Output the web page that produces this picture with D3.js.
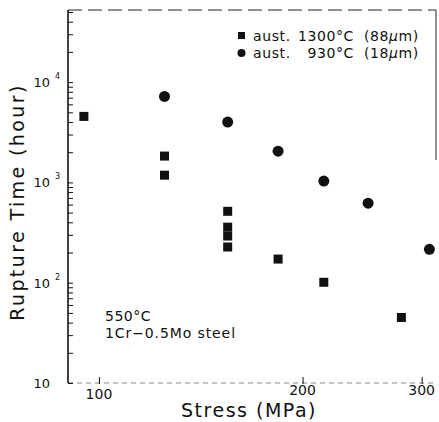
<!DOCTYPE html>
<html>
<head>
<meta charset="utf-8">
<script src="https://cdn.jsdelivr.net/npm/d3@7"></script>
<style>
  body { margin: 0; background: #fff; }
  text { font-family: "DejaVu Sans", sans-serif; fill: #111; }
</style>
</head>
<body>
<div id="chart"></div>
<script>
// data
const coarseStress = [95, 125, 125, 155, 155, 155, 155, 184, 215, 280]
const coarseTime = [4550, 1830, 1180, 515, 358, 292, 227, 172, 101, 45]
const fineStress = [125, 155, 184, 215, 250, 308]
const fineTime = [7200, 4000, 2050, 1030, 620, 215]
const stressTicks = [100, 200, 300]
const timeMajor = [10, 100, 1000, 10000]
const timeExp = ['', '2', '3', '4']
const legendName = ['aust.', 'aust.']
const legendTemp = ['1300°C', '930°C']
const legendSize = ['88', '18']

const width = 439, height = 422
const plotL = 68, plotR = 436, plotT = 12, plotB = 383

const svg = d3.select('#chart').append('svg')
  .attr('width', width)
  .attr('height', height)

const x = d3.scaleLog().domain([90, 315]).range([plotL, plotR])
const y = d3.scaleLog().domain([10, 50000]).range([plotB, plotT])

// frame (scan is faded on top / bottom)
svg.append('line')
  .attr('x1', plotL).attr('x2', plotR).attr('y1', 10).attr('y2', 10)
  .attr('stroke', '#222').attr('stroke-dasharray', '14,6')
svg.append('line')
  .attr('x1', plotR).attr('x2', plotR).attr('y1', 10).attr('y2', 160)
  .attr('stroke', '#222')
svg.append('line')
  .attr('x1', plotL).attr('x2', plotR).attr('y1', plotB).attr('y2', plotB)
  .attr('stroke', '#888').attr('stroke-dasharray', '5,4')

// y axis, ticks inward
const yAxis = d3.axisRight(y)
  .tickValues(d3.range(1, 5).flatMap(e => d3.range(1, 10).map(m => m * 10 ** e)).filter(v => v <= 50000))
  .tickSize(5)
  .tickFormat('')
svg.append('g')
  .attr('transform', `translate(${plotL},0)`)
  .call(yAxis)
  .call(g => g.select('.domain').attr('d', `M0,${plotT - 2}V${plotB}`).attr('stroke', '#111').attr('stroke-width', 1.6))
  .call(g => g.selectAll('.tick line').attr('stroke', '#111'))

const yl = svg.append('g')
timeMajor.forEach((v, i) => {
  yl.append('text')
    .attr('x', 50).attr('y', y(v) + 5)
    .attr('text-anchor', 'end')
    .style('font-size', '13px')
    .text('10')
  yl.append('text')
    .attr('x', 55).attr('y', y(v) - 3)
    .style('font-size', '8px')
    .text(timeExp[i])
})

// x axis, ticks inward
const xAxis = d3.axisBottom(x)
  .tickValues(stressTicks)
  .tickSize(-7)
  .tickFormat('')
svg.append('g')
  .attr('transform', `translate(0,${plotB + 1})`)
  .call(xAxis)
  .call(g => g.select('.domain').remove())
  .call(g => g.selectAll('.tick line').attr('stroke', '#111'))

svg.append('g').selectAll('text').data(stressTicks).join('text')
  .attr('x', d => x(d))
  .attr('y', (d, i) => i === 0 ? 399 : 395)
  .attr('text-anchor', 'middle')
  .style('font-size', '14px')
  .text(d => d)

// axis titles
svg.append('text')
  .attr('x', 249).attr('y', 417)
  .attr('text-anchor', 'middle')
  .style('font-size', '19px')
  .style('letter-spacing', '1.5px')
  .text('Stress  (MPa)')

svg.append('text')
  .attr('transform', 'translate(24,202) rotate(-90)')
  .attr('text-anchor', 'middle')
  .style('font-size', '19px')
  .style('letter-spacing', '2.4px')
  .text('Rupture  Time  (hour)')

// markers
const sq = 9
svg.append('g').selectAll('rect').data(coarseStress).join('rect')
  .attr('x', d => x(d) - sq / 2)
  .attr('y', (d, i) => y(coarseTime[i]) - sq / 2)
  .attr('width', sq).attr('height', sq)
  .attr('fill', '#111')

svg.append('g').selectAll('circle').data(fineStress).join('circle')
  .attr('cx', d => x(d))
  .attr('cy', (d, i) => y(fineTime[i]))
  .attr('r', 5.5)
  .attr('fill', '#111')

// legend
const lg = svg.append('g')
legendName.forEach((n, i) => {
  const ly = 36 + i * 17
  if (i === 0) {
    lg.append('rect').attr('x', 238).attr('y', ly - 4).attr('width', 7).attr('height', 7).attr('fill', '#111')
  } else {
    lg.append('circle').attr('cx', 241.5).attr('cy', ly).attr('r', 4).attr('fill', '#111')
  }
  lg.append('text').attr('x', 253).attr('y', ly + 5).style('font-size', '14px').style('letter-spacing', '0.6px').text(n)
  lg.append('text').attr('x', 354).attr('y', ly + 5).attr('text-anchor', 'end').style('font-size', '14px').style('letter-spacing', '0.6px').text(legendTemp[i])
  const t = lg.append('text').attr('x', 364).attr('y', ly + 5).style('font-size', '14px').style('letter-spacing', '0.6px')
  t.append('tspan').text('(' + legendSize[i])
  t.append('tspan').style('font-style', 'italic').text('μ')
  t.append('tspan').text('m)')
})

// annotation
svg.append('text')
  .attr('x', 105).attr('y', 321)
  .style('font-size', '14px')
  .style('letter-spacing', '0.5px')
  .text('550°C')
svg.append('text')
  .attr('x', 105).attr('y', 338)
  .style('font-size', '14px')
  .style('letter-spacing', '0.9px')
  .text('1Cr−0.5Mo  steel')
</script>
</body>
</html>
